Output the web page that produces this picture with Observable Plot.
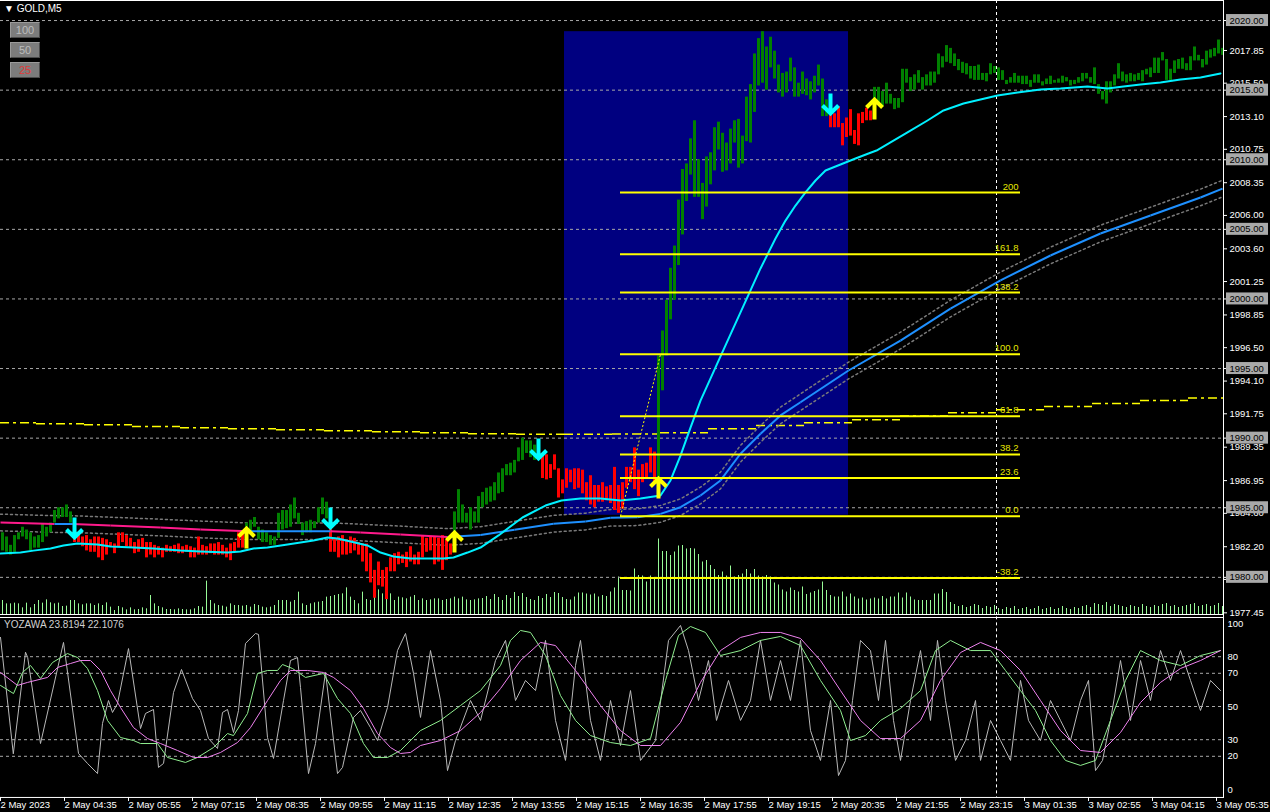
<!DOCTYPE html>
<html><head><meta charset="utf-8">
<script src="https://cdn.jsdelivr.net/npm/d3@7"></script>
<script src="https://cdn.jsdelivr.net/npm/@observablehq/plot@0.6"></script>
<style>
body{margin:0;background:#000;width:1270px;height:812px;overflow:hidden;position:relative;font-family:"Liberation Sans",Arial,sans-serif;}
.abs{position:absolute}
.btn{position:absolute;left:10px;width:28px;height:14px;background:#7c7c7c;border:1px solid #9a9a9a;border-right-color:#4a4a4a;border-bottom-color:#4a4a4a;font-size:11px;line-height:14px;text-align:center;color:#bdbdbd}
</style></head><body>
<div id="vol" class="abs" style="left:0;top:0"></div>
<div id="main" class="abs" style="left:0;top:0"></div>
<div id="osc" class="abs" style="left:0;top:617px"></div>
<div class="abs" style="left:0;top:0;width:1223px;height:1px;background:#fff"></div>
<div class="abs" style="left:0;top:614px;width:1223px;height:1px;background:#fff"></div>
<div class="abs" style="left:0;top:617px;width:1223px;height:1px;background:#fff"></div>
<div class="abs" style="left:1223px;top:0;width:1px;height:798px;background:#fff"></div>
<div class="abs" style="left:4px;top:3px;color:#fff;font-size:10px">&#9660; GOLD,M5</div>
<div class="btn" style="top:22px">100</div>
<div class="btn" style="top:42px">50</div>
<div class="btn" style="top:62px;color:#e03a3a">25</div>
<div class="abs" style="left:4px;top:619px;color:#d0d0d0;font-size:10px">YOZAWA 23.8194 22.1076</div>
<script>
// ---------- price bars (bar index 0..305, M5) ----------
const hi = [
1983.2,1982.9,1982.3,1983.0,1983.2,1983.6,1983.4,1983.2,1982.9,1983.0,1983.8,1983.6,1983.9,1984.8,1985.0,1985.0,1985.2,1984.7,
1983.2,1983.2,1982.9,1983.0,1982.7,1982.9,1982.9,1982.8,1982.7,1982.5,1982.4,1983.2,1983.2,1983.0,1982.8,1982.5,1982.7,1982.8,1982.5,1982.5,1982.3,1982.2,1982.1,1982.3,1982.2,1982.3,1982.4,1982.2,1982.3,1982.2,1982.1,1982.9,1982.3,1982.2,1982.4,1982.4,1982.5,1982.3,1982.1,1982.4,1982.5,1983.2,
1983.2,1983.9,1984.1,1984.3,1983.6,1983.4,1983.2,1983.0,1982.9,1984.6,1984.8,1984.8,1985.2,1985.7,1984.6,1983.9,1984.0,1984.1,1984.0,1985.0,1985.7,1985.4,
1983.7,1982.8,1982.9,1983.0,1982.7,1982.9,1982.8,1982.5,1982.4,1982.4,1981.7,1980.5,1981.1,1980.5,1980.7,1981.4,1981.7,1981.8,1981.6,1981.8,1982.2,1981.6,1981.8,1983.0,1982.8,1982.9,1982.9,1982.8,1983.0,1982.7,1982.4,
1984.7,1986.3,1985.2,1984.6,1985.0,1984.7,1985.8,1986.1,1986.4,1986.5,1986.8,1987.5,1987.8,1988.1,1988.2,1988.4,1989.3,1990.0,1989.8,1989.8,1989.5,
1989.0,1988.8,1988.8,1988.1,1988.8,1987.8,1987.0,1987.8,1987.7,1987.8,1987.8,1987.7,1986.8,1987.3,1986.6,1986.6,1986.8,1986.5,1986.6,1987.9,1986.6,1986.8,1987.9,1987.9,1989.3,1987.7,1988.1,1988.2,1989.3,1989.0,
1995.9,1997.7,1999.9,2002.2,2003.8,2007.1,2009.3,2009.7,2011.5,2012.8,2010.0,2008.3,2010.2,2010.5,2012.3,2012.7,2011.9,2011.2,2012.2,2012.8,2012.9,2011.7,2014.5,2015.4,2017.6,2018.7,2019.2,2018.1,2018.8,2017.8,2016.8,2016.2,2016.3,2017.3,2016.6,2015.5,2016.3,2015.8,2015.6,2016.0,2016.8,2015.8,2014.3,
2013.7,2013.3,2013.8,2012.6,2013.0,2013.6,2012.1,2013.3,2013.4,2013.7,2013.5,
2015.2,2015.2,2014.9,2015.5,2014.7,2014.4,2014.4,2016.5,2016.5,2015.9,
2016.1,2016.4,2015.9,2016.1,2016.3,2016.3,2017.6,2017.4,2018.2,2018.0,
2017.6,2017.2,2017.0,2016.9,2016.7,2016.7,2016.8,2016.2,2016.2,2016.9,
2016.7,2016.6,2016.4,2015.7,2015.9,2016.2,2016.0,2016.0,2016.0,2015.7,
2016.1,2016.1,2015.6,2015.8,2016.0,2015.7,2015.8,2016.0,2015.9,2015.7,
2015.7,2015.9,2016.2,2016.2,2015.9,2016.6,2015.4,2014.9,2015.6,2015.6,
2016.1,2016.9,2016.3,2016.1,2016.2,2016.1,2016.2,2016.4,2016.5,2016.6,
2017.3,2017.3,2017.7,2017.2,2016.5,2017.1,2017.2,2017.3,2016.9,2017.4,
2018.1,2017.5,2017.2,2017.8,2017.9,2018.0,2018.6,2018.0];
const lo = [
1981.9,1981.8,1981.6,1981.8,1982.7,1982.9,1982.7,1981.9,1982.1,1982.1,1982.5,1982.9,1983.2,1983.9,1984.2,1984.3,1984.3,1983.9,
1982.5,1982.5,1982.2,1981.9,1981.8,1981.8,1981.4,1981.2,1981.6,1982.2,1981.7,1982.2,1982.5,1982.2,1982.1,1981.7,1981.8,1982.1,1981.4,1981.6,1981.4,1981.6,1981.4,1981.8,1981.8,1981.8,1981.7,1981.7,1981.8,1981.4,1981.4,1981.6,1981.6,1981.6,1981.7,1981.6,1981.6,1981.6,1981.4,1981.2,1981.8,1982.1,
1982.1,1983.2,1983.2,1983.6,1982.7,1982.5,1982.5,1982.3,1982.3,1982.8,1983.4,1983.5,1983.6,1984.2,1983.8,1983.0,1983.2,1983.2,1983.5,1983.9,1984.5,1984.2,
1981.8,1981.8,1981.4,1981.6,1981.6,1981.7,1981.9,1981.6,1981.1,1980.4,1979.6,1978.5,1979.4,1979.3,1978.4,1980.4,1980.4,1980.9,1981.0,1980.7,1981.1,1980.9,1980.9,1981.4,1981.8,1981.9,1980.9,1981.1,1980.5,1981.2,1981.6,
1983.0,1983.9,1983.9,1983.9,1983.4,1983.9,1983.9,1985.0,1985.2,1985.4,1985.5,1986.0,1986.1,1987.3,1987.3,1987.5,1988.3,1988.4,1988.9,1988.6,1988.4,
1988.4,1987.1,1987.0,1987.1,1987.7,1985.7,1986.0,1986.4,1986.8,1986.3,1986.4,1986.0,1985.5,1985.2,1985.0,1985.4,1985.4,1985.5,1985.3,1984.8,1984.6,1984.9,1986.4,1986.8,1986.3,1985.8,1986.8,1987.1,1987.5,1986.8,
1987.1,1993.4,1995.9,1998.5,1999.9,2002.4,2004.6,2007.0,2008.9,2007.3,2007.3,2005.7,2006.6,2008.2,2009.2,2010.7,2009.1,2009.2,2009.7,2011.2,2009.4,2009.7,2011.3,2011.2,2013.4,2015.3,2015.5,2015.0,2016.6,2015.8,2014.8,2014.5,2014.8,2015.6,2014.5,2014.5,2014.7,2014.6,2014.3,2014.8,2015.3,2013.1,2013.1,
2012.3,2012.3,2012.3,2011.0,2011.6,2011.7,2011.1,2011.0,2012.6,2012.8,2012.8,
2013.9,2014.0,2013.8,2014.0,2014.0,2013.6,2013.7,2014.1,2015.5,2014.9,
2015.0,2015.5,2015.0,2015.3,2015.3,2015.5,2016.1,2016.6,2017.0,2016.9,
2016.7,2016.4,2016.2,2016.1,2015.8,2015.7,2015.7,2015.7,2015.6,2016.1,
2016.2,2015.7,2015.7,2015.4,2015.5,2015.5,2015.5,2015.4,2015.4,2015.2,
2015.5,2015.5,2015.3,2015.4,2015.4,2015.5,2015.5,2015.5,2015.6,2015.3,
2015.4,2015.5,2015.6,2015.8,2015.5,2015.4,2014.7,2014.3,2014.0,2014.8,
2015.3,2015.8,2015.6,2015.5,2015.6,2015.6,2015.7,2015.6,2016.1,2015.9,
2016.2,2016.2,2017.1,2015.7,2015.7,2016.2,2016.5,2016.5,2016.4,2016.4,
2017.1,2017.1,2016.6,2016.8,2017.3,2017.4,2017.6,2017.5];
// tick volume
const volume = [
280,213,213,227,213,133,227,133,200,280,227,293,233,213,227,160,167,280,280,213,
193,213,213,180,213,180,233,147,80,160,133,93,133,93,100,133,113,380,213,160,
133,100,100,93,113,100,93,93,113,160,147,667,280,213,180,167,147,213,180,180,
167,180,147,200,180,147,133,147,180,280,280,280,247,280,447,213,180,213,233,247,
260,347,360,380,400,413,533,347,280,213,447,300,280,613,493,413,400,413,280,347,
333,313,347,380,280,313,280,293,313,313,280,300,313,347,313,347,293,280,293,313,
320,360,300,400,340,280,380,320,440,360,420,340,300,280,360,320,400,340,440,
420,340,300,290,350,430,430,410,390,410,350,380,360,450,530,750,480,480,470,910,780,770,650,770,730,1510,
1260,1260,1180,1250,1370,1380,1310,1320,1310,1200,1050,1080,980,900,780,850,770,970,750,780,
810,900,810,900,770,750,780,750,630,590,490,450,530,480,450,550,400,430,460,490,
650,480,380,350,350,450,350,410,350,310,330,290,310,330,310,360,310,350,350,430,
330,430,350,290,280,280,280,280,410,410,500,
440,240,200,160,180,140,160,200,180,120,160,140,180,120,100,140,120,160,100,120,
140,100,120,160,100,120,140,100,120,160,120,100,140,120,160,180,140,220,200,180,
240,160,200,180,160,140,180,160,140,200,160,140,180,160,200,220,160,180,140,160,
180,200,220,160,180,200,160,180,220,160];
// signals (arrows)
const signalBars = [18, 61, 82, 113, 134, 164, 207, 218];
const signalDirs = ["down","up","down","up","down","up","down","up"];
const signalTips = [1982.86, 1983.51, 1983.58, 1983.22, 1988.54, 1987.10, 2013.32, 2014.33];
// fast MA (cyan) vertices: bar position, price
const fastPos = [-0.5,4.5,7.75,12,15.25,18.75,23.75,27,32.75,37.75,44.5,49.5,56.25,59.5,62.75,66.25,71.25,74.5,77.75,81.25,83.75,87,91.25,94.5,97.75,102,107.75,110.25,112.75,116.25,119.5,124,130,135.75,139.75,144.5,149.5,154.5,159.5,164.5,167,169.5,172,174.5,179.5,184.5,189.5,193.25,195.75,198.25,200.75,203.25,205.75,209.5,213.25,216.5,218.5,222,226.25,231.25,235.25,240.25,244.5,248.75,253.75,259.5,264.5,271.25,273.75,276.25,280.25,284.5,289.5,294.5,299.5,304.5];
const fastVal = [1981.71,1981.78,1981.92,1982.07,1982.29,1982.43,1982.36,1982.21,1982.14,1982.07,1981.92,1981.85,1981.78,1981.85,1982.07,1982.14,1982.36,1982.50,1982.65,1982.86,1982.79,1982.57,1982.29,1981.78,1981.50,1981.35,1981.35,1981.35,1981.43,1981.78,1982.14,1983.01,1984.30,1985.16,1985.52,1985.66,1985.66,1985.52,1985.66,1985.88,1986.96,1988.75,1990.76,1992.70,1995.87,1999.03,2002.19,2004.34,2005.63,2006.71,2007.65,2008.51,2009.23,2009.66,2010.09,2010.45,2010.66,2011.24,2011.96,2012.82,2013.54,2014.04,2014.33,2014.62,2014.83,2015.05,2015.12,2015.26,2015.19,2015.12,2015.26,2015.41,2015.55,2015.77,2015.91,2016.20];
// slow MA (pink when falling, blue when rising) vertices
const slowPos = [-0.5,13,17.5,27,39.5,49.5,61.25,82,89.5,99.5,111.25,119.5,128,137.75,145.75,152,158.75,164.5,169.5,174.5,179.5,184.5,189.5,194.5,199.5,211.5,224.5,237,249.5,262,274.5,287,299.5,305];
const slowVal = [1983.94,1983.83,1983.83,1983.72,1983.58,1983.44,1983.31,1983.31,1983.22,1983.08,1982.90,1983.04,1983.42,1983.85,1984.01,1984.28,1984.32,1984.56,1985.04,1985.88,1986.96,1988.88,1990.31,1991.63,1992.58,1994.86,1997.01,1999.31,2001.33,2003.12,2004.70,2005.99,2007.29,2007.93];
const envelopeWidth = 0.6;
// H1 moving average (stepped, dash-dot yellow)
const h1Bounds = [-0.5,8.5,20.5,32.5,44.5,56.5,68.5,80.5,92.5,104.5,116.5,128.5,140.5,152.5,164.5,176.5,188.5,200.5,212.5,224.5,236.5,248.5,260.5,272.5,284.5,296.5,305.25];
const h1Val = [1991.10,1991.03,1990.96,1990.84,1990.74,1990.67,1990.60,1990.53,1990.46,1990.38,1990.31,1990.28,1990.28,1990.30,1990.38,1990.67,1990.91,1991.10,1991.32,1991.59,1991.82,1992.04,1992.27,1992.49,1992.70,1992.88];
// Fibonacci
const fibLevels = [200, 161.8, 138.2, 100, 61.8, 38.2, 23.6, 0, -38.2];
const fibLabels = ["200","161.8","138.2","100.0","61.8","38.2","23.6","0.0","-38.2"];
const fibLow = 1984.39, fibHigh = 1996.02, fibLowBar = 154.5, fibHighBar = 164.5, fibEndBar = 254.5;
// rectangle
const rectBars = [140.5, 211.5], rectPrices = [1984.46, 2019.2];
// horizontal lines & axis
const hLevels = [2020, 2015, 2010, 2005, 2000, 1995, 1990, 1985, 1980];
const priceTicks = [2017.85,2015.50,2013.10,2010.75,2008.35,2006.00,2003.60,2001.25,1998.85,1996.50,1994.10,1991.75,1989.35,1986.95,1984.60,1982.20,1979.85,1977.45];
const daySeparator = 248.5;
// oscillator YOZAWA
const greyPos = [-0.5,2.7,5.75,6.3,9.5,15.25,19,21.25,23.75,25,26.5,27.5,28.75,31.5,34.5,35.75,37.75,39,40.25,42.75,44.75,47.5,49.5,51.5,53.75,55,56.25,57.75,59,60.75,63.25,64,66.25,67.75,70.25,72,73.75,74.5,76.5,78.25,80.75,83.75,85,87.75,89.5,92,93.75,96.25,98.75,100.75,102.75,104.5,107,109.5,111.25,113.25,117,119.5,123.25,125.75,128.25,130.75,133.25,135.75,138.25,140.75,143.25,144.5,147,149.5,152,154.5,157,159.5,163.25,166.5,169.5,171.5,174,176.5,178.5,181.5,184.5,187,189.5,192,194.5,197,199.5,202,204.5,207,209,210.75,212.5,214.5,217,219,220.75,222.75,224.5,227,229.5,232,233.75,235.75,238.25,240.75,243.25,244.5,247,249.5,252,254.5,256.5,259.5,262,264.5,267,269.5,271.5,273.25,275,277,279.5,282,284.5,287,289.5,292,294.5,297,299.5,302,304.5];
const greyVal = [91.6,21.5,82.7,79.5,27.7,88.6,21.7,15.7,9.6,39.8,53.6,46.4,51.8,84.9,36.7,45.8,48.2,13.3,15.7,58.4,72.3,54.8,47.6,30.7,24.7,46.4,48.2,34.3,47.6,88.0,94.0,93.4,31.3,18.7,53.6,77.7,79.5,61.4,9.6,27.7,70.5,9.6,13.3,43.4,47.6,37.3,29.5,49.4,83.7,94.0,69.9,43.4,83.7,53.6,11.4,29.5,53.6,41.6,77.7,89.8,53.6,65.7,59.6,89.8,41.6,17.5,74.7,89.8,41.6,17.5,53.6,26.5,59.6,17.5,29.5,89.8,98.8,83.7,53.6,77.7,41.6,65.7,41.6,53.6,89.8,53.6,77.7,53.6,89.8,35.5,17.5,53.6,8.4,17.5,53.6,89.8,83.7,53.6,89.8,41.6,17.5,53.6,83.7,41.6,89.8,53.6,17.5,29.5,53.6,17.5,41.6,29.5,17.5,65.7,41.6,29.5,53.6,41.6,29.5,53.6,65.7,11.4,17.5,41.6,77.7,41.6,77.7,53.6,83.7,65.7,83.7,65.7,47.6,65.7,59.6];
const greenPos = [-0.5,2.75,5,7,9.5,12.5,16.25,18.75,21.25,23.75,26.25,29.5,32.75,34.5,38.75,41.25,45.75,48.75,52.75,56.25,57.75,61.25,63.75,66.25,68.75,70,72.5,75.75,80.25,83.75,87,90.25,92.75,96.25,99.5,104.5,109.5,114.5,119.5,124.5,127,129.5,132,135.75,139.5,143.25,147,152,157,162,165.75,169,172,175.75,179.5,184.5,189.5,194.5,199.5,204.5,209.5,212,215.75,219.5,224.5,229.5,233.25,237,242,247,250.75,254.5,258.25,262,265.75,269.5,273.25,277,280.75,284.5,289.5,294.5,299.5,304.5];
const greenVal = [62.7,57.8,70.5,74.7,66.9,76.5,81.9,79.5,72.9,59.6,41.6,31.3,29.5,27.7,27.7,19.3,16.3,19.3,25.3,33.7,32.5,45.8,69.9,71.7,71.7,75.3,72.9,67.5,69.9,54.8,45.8,27.7,19.3,19.3,23.5,35.5,41.6,50.6,59.6,74.7,89.8,95.8,94.6,80.7,56.6,41.6,32.5,28.3,26.5,30.7,65.7,92.8,98.2,94.6,80.7,83.7,89.8,92.2,86.7,65.7,47.6,29.5,32.5,41.6,48.8,59.6,83.7,89.8,83.7,83.7,71.7,59.6,47.6,29.5,17.5,14.5,17.5,41.6,65.7,83.7,77.7,74.7,80.7,83.7];
const violetPos = [-0.5,3.75,6.25,11.25,13.75,17,19.5,22,24.5,27,29.5,32.75,36.25,39.5,43.75,47.75,51.25,54.5,58.75,62,66.25,69.5,72,76.25,80.25,82.75,87,90.25,93.75,97,99.5,102,104.5,109.5,114.5,119.5,124.5,129.5,134.5,138.25,143.25,149.5,154.5,159.5,164.5,169.5,174.5,179.5,184.5,189.5,194.5,199.5,204.5,209.5,214.5,219.5,224.5,229.5,234.5,239.5,244.5,249.5,254.5,259.5,264.5,269.5,274.5,279.5,284.5,289.5,294.5,299.5,304.5];
const violetVal = [70.5,62.7,64.5,67.5,73.5,75.9,77.7,77.7,71.7,59.6,49.4,37.3,30.7,27.7,23.5,19.3,19.3,22.3,28.3,37.3,53.6,65.7,71.7,71.7,70.5,67.5,59.6,48.8,33.7,25.3,21.7,22.3,26.5,29.5,35.5,46.4,60.8,77.7,88.6,86.7,71.7,50.6,35.5,26.5,26.5,40.4,64.5,83.7,91.6,94.6,94.6,91.0,77.7,59.6,41.6,30.7,30.7,41.6,65.7,82.5,88.6,83.7,71.7,53.6,35.5,23.5,22.3,34.3,52.4,64.5,72.9,77.7,83.7];
const oscLevels = [80, 70, 50, 30, 20];
const oscTicks = [100, 80, 70, 50, 30, 20, 0];
// time axis
const timeLabels = ["2 May 2023","2 May 04:35","2 May 05:55","2 May 07:15","2 May 08:35","2 May 09:55","2 May 11:15","2 May 12:35","2 May 13:55","2 May 15:15","2 May 16:35","2 May 17:55","2 May 19:15","2 May 20:35","2 May 21:55","2 May 23:15","3 May 01:35","3 May 02:55","3 May 04:15","3 May 05:35"];
const timeTickBars = [0,16,32,48,64,80,96,112,128,144,160,176,192,208,224,240,256,272,288,304];

// ---------- build ----------
const FONT = "Liberation Sans, Arial, sans-serif";
const xDom = [-0.5, 305.25];
const W = 1270;
const bars = hi.map((h, i) => {
  let t = "up";
  for (let k = 0; k < signalBars.length; k++) if (signalBars[k] <= i) t = signalDirs[k];
  return {i, hi: h, lo: lo[i], vol: volume[i], trend: t};
});
const fast = fastPos.map((p, k) => ({p, v: fastVal[k]}));
const slow = slowPos.map((p, k) => ({p, v: slowVal[k]}));
const slowSegs = slow.slice(1).map((d, k) => ({x1: slow[k].p, y1: slow[k].v, x2: d.p, y2: d.v, c: d.v < slow[k].v ? "#ff1a8c" : "#1e90ff"}));
const h1 = h1Val.map((v, k) => ({v, x1: h1Bounds[k], x2: h1Bounds[k + 1]}));
const fib = fibLevels.map((l, k) => ({price: fibLow + (fibHigh - fibLow) * l / 100, label: fibLabels[k]}));
const signals = signalBars.map((b, k) => ({b, dir: signalDirs[k], tip: signalTips[k]}));
const pxPerPrice = 13.92;
const yMain = [2021.44 - 614 / pxPerPrice, 2021.44];
const style = {background: "transparent", overflow: "visible", fontFamily: FONT};
const chevron = {
  draw(context, l) {
    const w = 8;
    context.moveTo(0, 0);
    context.lineTo(0, -l + 1);
    context.moveTo(-w, -l + w);
    context.lineTo(0, -l);
    context.lineTo(w, -l + w);
  }
};

const volPlot = Plot.plot({
  width: W, height: 614, marginLeft: 0, marginRight: 47, marginTop: 0, marginBottom: 0,
  style, x: {domain: xDom, axis: null}, y: {domain: [0, 614 * 20], axis: null},
  marks: [Plot.ruleX(bars, {x: "i", y1: 0, y2: "vol", stroke: "#98fb98", strokeWidth: 1})]
});
document.getElementById("vol").appendChild(volPlot);

const boxHalf = 6 / pxPerPrice;
const mainPlot = Plot.plot({
  width: W, height: 614, marginLeft: 0, marginRight: 47, marginTop: 0, marginBottom: 0,
  style, x: {domain: xDom, axis: null}, y: {domain: yMain, axis: null},
  marks: [
    Plot.rect([0], {x1: () => rectBars[0], x2: () => rectBars[1], y1: () => rectPrices[0], y2: () => rectPrices[1], fill: "#000080"}),
    Plot.ruleY(hLevels, {y: d => d, x1: xDom[0], x2: xDom[1], stroke: "#a8a8a8", strokeDasharray: "3,3"}),
    Plot.ruleX([daySeparator], {x: d => d, stroke: "#ffffff", strokeDasharray: "3,3"}),
    Plot.ruleY(h1, {y: "v", x1: "x1", x2: "x2", stroke: "#ffff00", strokeWidth: 1.5, strokeDasharray: "9,4,3,4"}),
    Plot.line(slow, {x: "p", y: d => d.v + envelopeWidth, stroke: "#7a7a7a", strokeDasharray: "2,3"}),
    Plot.line(slow, {x: "p", y: d => d.v - envelopeWidth, stroke: "#7a7a7a", strokeDasharray: "2,3"}),
    Plot.ruleX(bars, {x: "i", y1: "lo", y2: "hi", stroke: d => d.trend === "up" ? "#008000" : "#ff0000", strokeWidth: 3}),
    Plot.link(slowSegs, {x1: "x1", y1: "y1", x2: "x2", y2: "y2", stroke: "c", strokeWidth: 2}),
    Plot.line(fast, {x: "p", y: "v", stroke: "#00f0ff", strokeWidth: 2}),
    Plot.link([0], {x1: () => fibLowBar, y1: () => fibLow, x2: () => fibHighBar, y2: () => fibHigh, stroke: "#ffff00", strokeDasharray: "2,2"}),
    Plot.ruleY(fib, {y: "price", x1: fibLowBar, x2: fibEndBar, stroke: "#ffff00", strokeWidth: 2}),
    Plot.text(fib, {x: fibEndBar, y: "price", text: "label", textAnchor: "end", dx: -2, dy: -6, fill: "#e6e600", fontSize: 9.5}),
    Plot.vector(signals, {x: "b", y: "tip", rotate: d => d.dir === "up" ? 0 : 180, length: 20, anchor: "end", shape: chevron,
      stroke: d => d.dir === "up" ? "#ffff00" : "#00ffff", strokeWidth: 4, strokeLinecap: "butt", strokeLinejoin: "miter"}),
    // right price axis
    Plot.ruleY(priceTicks, {y: d => d, x1: 305.25, x2: 306.25, stroke: "#fff"}),
    Plot.text(priceTicks, {x: 305.25, y: d => d, text: d => d.toFixed(2), textAnchor: "start", dx: 6, fill: "#fff", fontSize: 9.5}),
    Plot.ruleY(hLevels, {y: d => d, x1: 305.25, x2: 306.25, stroke: "#fff"}),
    Plot.rect(hLevels, {x1: 306, x2: 316.5, y1: d => d - boxHalf, y2: d => d + boxHalf, fill: "#a9a9a9"}),
    Plot.text(hLevels, {x: 305.25, y: d => d, text: d => d.toFixed(2), textAnchor: "start", dx: 6, fill: "#000", fontSize: 9.5})
  ]
});
document.getElementById("main").appendChild(mainPlot);

const grey = greyPos.map((p, k) => ({p, v: greyVal[k]}));
const green = greenPos.map((p, k) => ({p, v: greenVal[k]}));
const violet = violetPos.map((p, k) => ({p, v: violetVal[k]}));
const ticks = timeTickBars.map((b, k) => ({b: b - 0.5, label: timeLabels[k]}));
const oscPlot = Plot.plot({
  width: W, height: 195, marginLeft: 0, marginRight: 47, marginTop: 0, marginBottom: 15,
  style, x: {domain: xDom, axis: null}, y: {domain: [0, 100], range: [172, 6], axis: null},
  marks: [
    Plot.ruleY(oscLevels, {y: d => d, x1: xDom[0], x2: xDom[1], stroke: "#a8a8a8", strokeDasharray: "3,3"}),
    Plot.ruleX([daySeparator], {x: d => d, y1: 104, y2: -4.8, stroke: "#ffffff", strokeDasharray: "3,3"}),
    Plot.line(grey, {x: "p", y: "v", stroke: "#b8b8b8", strokeWidth: 1}),
    Plot.line(green, {x: "p", y: "v", stroke: "#90ee90", strokeWidth: 1}),
    Plot.line(violet, {x: "p", y: "v", stroke: "#ee82ee", strokeWidth: 1}),
    Plot.text(oscTicks, {x: 305.25, y: d => d, text: d => String(d), textAnchor: "start", dx: 4, fill: "#fff", fontSize: 9.5}),
    Plot.ruleY([-4.8], {x1: xDom[0], x2: xDom[1], stroke: "#fff"}),
    Plot.ruleX(ticks, {x: "b", y1: -4.8, y2: -7.2, stroke: "#fff"}),
    Plot.text(ticks, {x: "b", y: -9.6, text: "label", textAnchor: "start", dx: 0, fill: "#fff", fontSize: 9.5})
  ]
});
document.getElementById("osc").appendChild(oscPlot);
</script>
</body></html>
